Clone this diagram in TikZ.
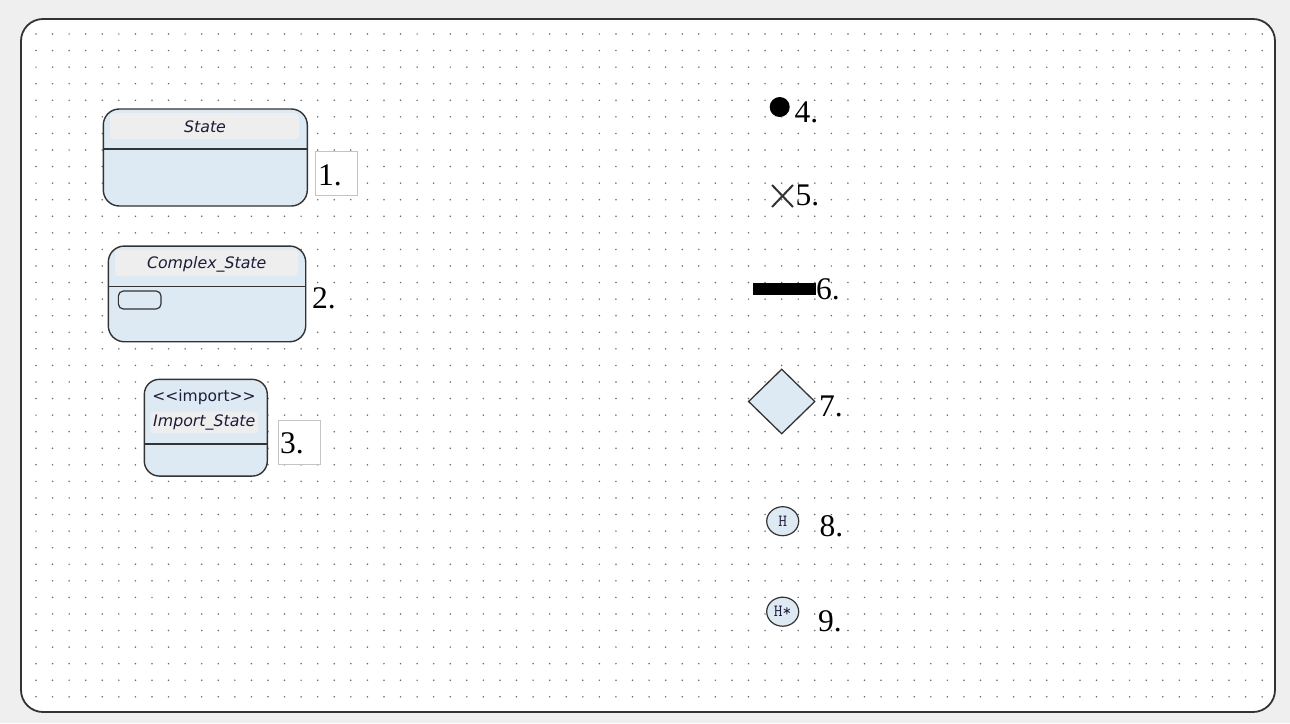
\documentclass[tikz,border=0pt]{standalone}
\usepackage{fontspec}
\setmainfont{Liberation Serif}
\newfontfamily\hdrfont{DejaVu Sans}
\usetikzlibrary{shapes.geometric}
\definecolor{bgcol}{HTML}{EFEFEF}
\definecolor{framecol}{HTML}{333333}
\definecolor{dotcol}{HTML}{6A6A6A}
\definecolor{statefill}{HTML}{DDEAF3}
\definecolor{hdrgray}{HTML}{EEEEEE}
\definecolor{hdrtext}{HTML}{1C1C3A}
\definecolor{boxline}{HTML}{C4C4C4}
\tikzset{
  statebox/.style={draw=framecol, line width=1.4pt, fill=statefill, inner sep=0pt},
  hdrtxt/.style={font=\hdrfont\itshape\fontsize{15.8}{16}\selectfont, text=hdrtext, inner sep=0pt},
  numtxt/.style={font=\fontsize{31.5}{31.5}\selectfont, anchor=base west, inner sep=0pt},
  numbox/.style={draw=boxline, line width=0.8pt, fill=white, inner sep=0pt},
  hist/.style={ellipse, draw=framecol, line width=1.2pt, fill=statefill, minimum width=32pt, minimum height=29pt, inner sep=0pt, font=\ttfamily\fontsize{17}{17}\selectfont, text=hdrtext}
}
\begin{document}
\begin{tikzpicture}[x=1pt,y=-1pt]
\fill[bgcol] (0,0) rectangle (1290,723);
\useasboundingbox (0,0) rectangle (1290,723);
\filldraw[fill=white, draw=framecol, line width=1.8pt, rounded corners=22pt] (21,19) rectangle (1275,712);
\foreach \i in {0,...,74}{\foreach \j in {0,...,40}{\fill[dotcol] ({36+16.57*\i},{34+16.57*\j}) circle (0.85pt);}}
% State
\node[statebox, rounded corners=16pt, minimum width=204pt, minimum height=97pt] (s1) at (205.3,157.5) {};
\fill[hdrgray, rounded corners=3pt] (110,113) rectangle (299,139);
\node[hdrtxt] (s1t) at (205,127) {State};
\coordinate (s1a) at (103.3,149); \coordinate (s1b) at (307.3,149);
\draw[framecol, line width=1.4pt] (s1a) -- (s1b);
\node[numbox, minimum width=42.7pt, minimum height=44pt] (b1) at (336.3,173.7) {};
\node[numtxt] (n1) at (318,185) {1.};
% Complex state
\node[statebox, rounded corners=16pt, minimum width=197.4pt, minimum height=95.7pt] (s2) at (207,293.9) {};
\fill[hdrgray, rounded corners=3pt] (115,250) rectangle (298,276);
\node[hdrtxt] (s2t) at (206.7,264) {Complex\_State};
\coordinate (s2a) at (108.3,286.7); \coordinate (s2b) at (305.7,286.7);
\draw[framecol, line width=1.4pt] (s2a) -- (s2b);
\node[draw=framecol, line width=1.2pt, fill=statefill, rounded corners=5pt, minimum width=42.7pt, minimum height=18pt, inner sep=0pt] (sub) at (139.7,300) {};
\fill[white] (309,284) rectangle (346,318);
\node[numtxt] (n2) at (312,308) {2.};
% Import state
\node[statebox, rounded corners=15pt, minimum width=123pt, minimum height=96.7pt] (s3) at (205.8,427.7) {};
\node[font=\hdrfont\fontsize{15.5}{16}\selectfont, text=hdrtext, inner sep=0pt] (s3s) at (204,397.3) {<{}<import>{}>};
\fill[hdrgray, rounded corners=3pt] (150.7,411.7) rectangle (258,433.3);
\node[hdrtxt] (s3t) at (204.3,422) {Import\_State};
\coordinate (s3a) at (144.3,444); \coordinate (s3b) at (267.3,444);
\draw[framecol, line width=1.4pt] (s3a) -- (s3b);
\node[numbox, minimum width=42.4pt, minimum height=43.3pt] (b3) at (299.5,442.4) {};
\node[numtxt] (n3) at (280,453) {3.};
% initial
\node[circle, fill=black, minimum size=20pt, inner sep=0pt] (init) at (779.7,107) {};
\node[numtxt] (n4) at (794.5,122.7) {4.};
% terminate
\coordinate (x1) at (772,185); \coordinate (x2) at (793,207);
\coordinate (x3) at (772,207); \coordinate (x4) at (793,185);
\draw[framecol, line width=2pt] (x1) -- (x2) (x3) -- (x4);
\node[numtxt] (n5) at (795.5,205) {5.};
% fork bar
\node[fill=black, minimum width=63.3pt, minimum height=12.3pt, inner sep=0pt] (bar) at (784.4,288.9) {};
\node[numtxt] (n6) at (816,299.3) {6.};
% choice
\node[diamond, draw=framecol, line width=1.3pt, fill=statefill, minimum width=66.7pt, minimum height=65pt, inner sep=0pt] (ch) at (781.7,401.5) {};
\node[numtxt] (n7) at (819,416.7) {7.};
% history
\node[hist] (h1) at (782.7,521.2) {H};
\node[numtxt] (n8) at (819.5,536) {8.};
\node[hist] (h2) at (782.7,611.7) {H*};
\node[numtxt] (n9) at (818,631.7) {9.};
\end{tikzpicture}
\end{document}
